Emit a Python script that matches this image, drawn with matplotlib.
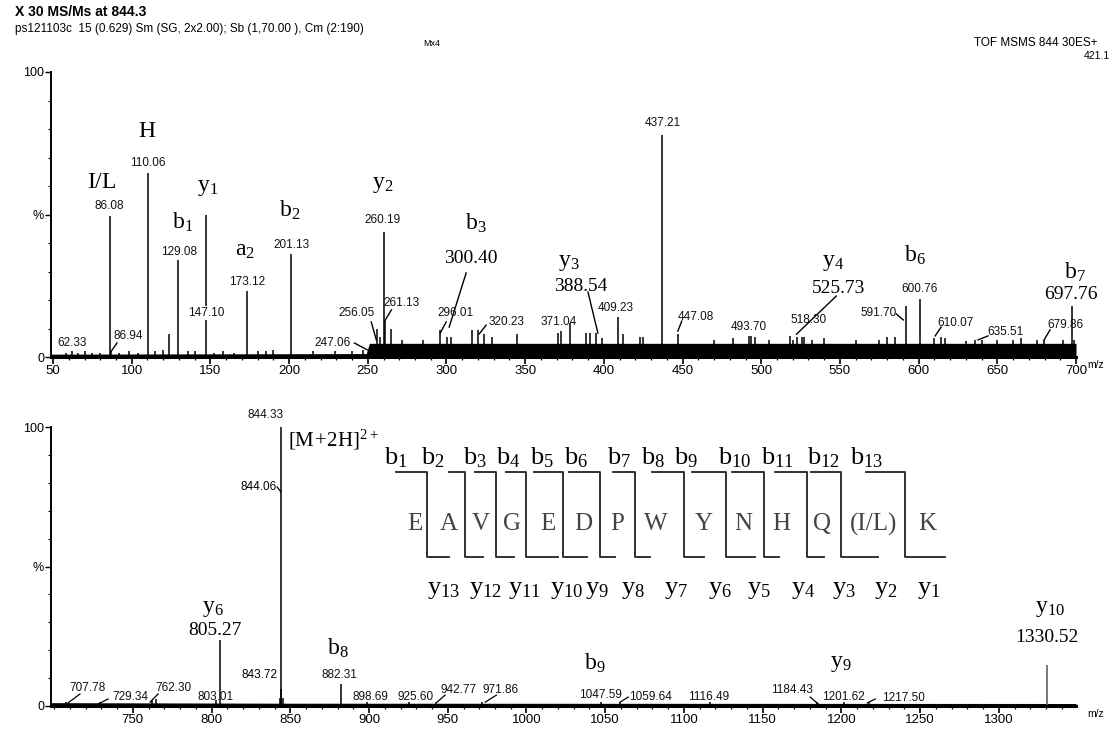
import numpy as np
import matplotlib.pyplot as plt
from matplotlib.transforms import Affine2D
from matplotlib.ticker import MultipleLocator

W, H = 1110, 734

# ---- top spectrum, m/z 50-700 ----
top_mz = [62.33, 86.08, 86.94, 110.06, 123.5, 129.08, 147.10, 173.12, 201.13, 247.06,
          256.05, 260.19, 261.13, 265.0, 296.01, 300.40, 316.0, 320.23, 371.04, 378.5,
          388.54, 409.23, 437.21, 447.08, 493.70, 518.30, 525.73, 591.70, 600.76, 610.07,
          635.51, 679.86, 697.76]
top_int = [2.0, 49.5, 2.0, 64.5, 8.0, 34.0, 50.0, 23.0, 36.0, 2.5,
           10.0, 44.0, 13.0, 10.0, 9.5, 7.0, 9.5, 9.5, 8.5, 12.0,
           8.5, 14.0, 78.0, 8.0, 7.5, 7.5, 7.0, 18.0, 20.5, 6.5,
           6.0, 6.0, 17.8]

# small spikes poking out of the noise
top_minor_mz = [58, 66, 70, 75, 80, 92, 98, 104, 115, 120, 136, 140, 152, 158, 165, 180,
                185, 190, 215, 229, 240, 258, 272, 285, 303, 324, 329, 345, 373, 391,
                395, 399, 412, 423, 425, 470, 482, 492, 496, 505, 520, 523, 527, 532,
                540, 560, 575, 580, 585, 614, 617, 630, 640, 650, 660, 665, 675, 692, 699]
top_minor_int = [1.5, 1.5, 2.0, 1.5, 1.5, 1.5, 2.0, 1.5, 2.0, 2.5, 2.0, 2.0, 1.5, 2.0, 1.5, 2.0,
                 2.0, 2.5, 2.0, 2.0, 2.0, 7.0, 6.0, 6.0, 7.0, 8.0, 7.0, 8.0, 9.0, 8.5,
                 8.5, 6.5, 8.0, 7.0, 7.0, 6.0, 6.5, 7.5, 7.0, 6.0, 6.0, 7.0, 7.0, 6.0,
                 6.5, 6.0, 6.0, 7.0, 7.0, 7.0, 6.5, 5.5, 6.0, 6.0, 6.0, 6.5, 6.0, 6.0, 6.0]

# noise floor envelope
top_noise_mz = [48.7, 249, 251, 700]
top_noise_lvl = [1.0, 1.2, 4.8, 4.8]

# ---- bottom spectrum, m/z 700-1350 ----
bot_mz = [707.78, 729.34, 762.30, 765.0, 803.01, 805.27, 843.72, 844.06, 844.33, 845.3,
          882.31, 898.69, 925.60, 942.77, 971.86, 1047.59, 1059.64, 1116.49, 1184.43,
          1201.62, 1217.50, 1330.52]
bot_int = [1.5, 1.5, 2.0, 2.5, 2.0, 23.7, 3.0, 6.0, 100.0, 3.0,
           8.0, 1.5, 1.5, 1.5, 1.5, 1.5, 1.5, 1.5, 1.5,
           1.5, 1.5, 14.7]
bot_noise_mz = [698, 850, 1349]
bot_noise_lvl = [1.2, 1.0, 0.9]

# peptide fragment map
residues = ['E', 'A', 'V', 'G', 'E', 'D', 'P', 'W', 'Y', 'N', 'H', 'Q', '(I/L)', 'K']
b_ions = ['b_{%d}' % i for i in range(1, 14)]
y_ions = ['y_{%d}' % i for i in range(13, 0, -1)]

plt.rcParams['font.family'] = ['Liberation Sans', 'DejaVu Sans']
plt.rcParams['mathtext.fontset'] = 'custom'
plt.rcParams['mathtext.rm'] = 'Liberation Serif'

fig = plt.figure(figsize=(W / 100, H / 100), dpi=100)
px = Affine2D().scale(1 / W, -1 / H).translate(0, 1) + fig.transFigure

ax1 = fig.add_axes([51 / W, 1 - 357 / H, 1025 / W, 285 / H])
ax2 = fig.add_axes([51 / W, 1 - 706 / H, 1025 / W, 279 / H])

SERIF = 'Liberation Serif'
small = dict(fontsize=8.5, ha='center', va='center', color='#111')


def style(ax, lo, hi, first):
    ax.set_xlim(lo, hi)
    ax.set_ylim(0, 100)
    for s in ['top', 'right']:
        ax.spines[s].set_visible(False)
    ax.spines['left'].set_linewidth(1.4)
    ax.spines['bottom'].set_linewidth(2.2)
    ax.set_xticks(np.arange(first, hi + 1, 50))
    ax.xaxis.set_minor_locator(MultipleLocator(10))
    ax.set_yticks([0, 50, 100])
    ax.set_yticklabels(['0', '%', '100'])
    ax.yaxis.set_minor_locator(MultipleLocator(10))
    ax.tick_params(axis='x', which='major', length=5, width=1.2, labelsize=9.5, pad=1)
    ax.tick_params(axis='x', which='minor', length=2.5, width=0.9)
    ax.tick_params(axis='y', which='major', length=4, width=1, labelsize=9, pad=1)
    ax.tick_params(axis='y', which='minor', length=2, width=0.8)
    ax.text(1.011, -0.012, 'm/z', transform=ax.transAxes, fontsize=7.5, va='top', ha='left')


# ---------------- top panel ----------------
style(ax1, 48.7, 700, 50)
ax1.fill_between(top_noise_mz, 0, top_noise_lvl, color='black', lw=0)
ax1.vlines(top_minor_mz, 0, top_minor_int, color='black', lw=1.1)
ax1.vlines(top_mz, 0, top_int, color='black', lw=1.1)

top_labels = [('62.33', 62.0, 4.9), ('86.08', 85.5, 53.0), ('86.94', 97.5, 7.4),
              ('110.06', 110.0, 68.0), ('129.08', 129.9, 37.0), ('173.12', 173.5, 26.3),
              ('201.13', 201.5, 39.3), ('247.06', 227.5, 4.9), ('256.05', 242.7, 15.4),
              ('260.19', 259.5, 48.0), ('261.13', 271.3, 19.0), ('296.01', 306.0, 15.4),
              ('320.23', 337.9, 12.3), ('371.04', 371.0, 12.3), ('409.23', 407.6, 17.2),
              ('437.21', 437.3, 82.0), ('447.08', 458.3, 14.0), ('493.70', 492.0, 10.5),
              ('518.30', 530.0, 13.0), ('591.70', 574.4, 15.4), ('600.76', 600.5, 23.9),
              ('610.07', 623.2, 11.9), ('635.51', 655.0, 8.8), ('679.86', 693.0, 11.2)]
for t, x, y in top_labels:
    ax1.text(x, y, t, clip_on=False, **small)
ax1.text(147.6, 15.4, '147.10', clip_on=False,
         bbox=dict(fc='white', ec='none', pad=0.5), **small)

serif_nums = [('300.40', 315.7, 34.7), ('388.54', 385.4, 24.6), ('525.73', 549.0, 24.2),
              ('697.76', 696.8, 21.8)]
for t, x, y in serif_nums:
    ax1.text(x, y, t, family=SERIF, fontsize=14, ha='center', va='center', clip_on=False)

top_ions = [('I/L', 81.0, 61.4), ('H', 109.6, 79.0), ('y_1', 148.3, 59.3), ('b_1', 132.4, 47.4),
            ('a_2', 171.7, 37.5), ('b_2', 200.2, 51.6), ('y_2', 259.2, 60.4), ('b_3', 318.8, 47.0),
            ('y_3', 377.8, 33.0), ('y_4', 545.9, 33.3), ('b_6', 597.8, 35.8), ('b_7', 699.3, 29.8)]
for t, x, y in top_ions:
    ax1.text(x, y, r'$\mathregular{%s}$' % t, family=SERIF, fontsize=17,
             ha='center', va='center', clip_on=False)

top_pointers = [(90.6, 4.9, 86.7, 1.8), (241.5, 4.9, 249.7, 2.5), (252.2, 12.3, 255.4, 6.0),
                (265.0, 16.5, 261.1, 13.0), (299.8, 12.3, 296.0, 8.4), (312.5, 29.5, 301.7, 10.5),
                (325.2, 11.2, 320.8, 8.1), (389.9, 22.8, 396.2, 8.4), (449.5, 12.6, 447.0, 9.1),
                (547.7, 21.4, 522.4, 8.0), (585.8, 15.1, 590.3, 13.0), (614.3, 10.5, 610.5, 7.4),
                (644.1, 7.4, 637.8, 6.0), (683.5, 9.5, 679.7, 6.0)]
for x1, y1, x2, y2 in top_pointers:
    ax1.plot([x1, x2], [y1, y2], color='black', lw=1.0, clip_on=False)

# ---------------- bottom panel ----------------
style(ax2, 698, 1349, 750)
ax2.fill_between(bot_noise_mz, 0, bot_noise_lvl, color='black', lw=0)
ax2.vlines(bot_mz[:-1], 0, bot_int[:-1], color='black', lw=1.1)
ax2.vlines(bot_mz[-1:], 0, bot_int[-1:], color='#555', lw=1.1)

bot_labels = [('844.33', 834.0, 104.3), ('707.78', 720.9, 6.5), ('729.34', 748.2, 3.2),
              ('762.30', 775.5, 6.5), ('803.01', 802.2, 3.2), ('882.31', 881.0, 11.1),
              ('898.69', 900.7, 3.2), ('925.60', 929.3, 3.2), ('942.77', 956.6, 5.7),
              ('971.86', 983.3, 5.7), ('1047.59', 1046.8, 3.9), ('1059.64', 1078.6, 3.2),
              ('1116.49', 1115.4, 3.2), ('1184.43', 1168.8, 5.7), ('1201.62', 1201.2, 3.2),
              ('1217.50', 1239.3, 3.0)]
for t, x, y in bot_labels:
    ax2.text(x, y, t, clip_on=False, **small)
ax2.text(841.6, 78.5, '844.06', fontsize=8.5, ha='right', va='center', clip_on=False)
ax2.text(841.6, 11.1, '843.72', fontsize=8.5, ha='right', va='center', clip_on=False)

for t, x, y in [('805.27', 802.2, 27.2), ('1330.52', 1330.8, 24.7)]:
    ax2.text(x, y, t, family=SERIF, fontsize=14, ha='center', va='center', clip_on=False)
bot_ions = [('y_6', 800.9, 35.1), ('b_8', 880.3, 20.5), ('b_9', 1043.6, 15.4),
            ('y_9', 1199.3, 15.4), ('y_{10}', 1332.7, 35.1)]
for t, x, y in bot_ions:
    ax2.text(x, y, r'$\mathregular{%s}$' % t, family=SERIF, fontsize=17,
             ha='center', va='center', clip_on=False)
ax2.text(848.6, 95.3, r'$\mathregular{[M\!+\!2H]^{2+}}$', family=SERIF, fontsize=15,
         ha='left', va='center', clip_on=False)

bot_pointers = [(716.4, 4.3, 708.8, 1.1), (734.2, 2.5, 727.9, 0.7), (766.0, 4.3, 760.9, 1.4),
                (948.3, 3.9, 943.2, 1.4), (980.9, 3.9, 973.8, 1.4), (1064.6, 3.2, 1059.5, 1.4),
                (1180.2, 3.2, 1185.3, 0.7), (1221.5, 2.5, 1216.4, 1.1), (841.6, 78.5, 844.1, 76.7)]
for x1, y1, x2, y2 in bot_pointers:
    ax2.plot([x1, x2], [y1, y2], color='black', lw=0.9, clip_on=False)

# ---------------- fragment ladder (pixel layout) ----------------
sep_x = [427, 465, 496, 526, 563, 600, 635, 684, 726, 764, 807, 841, 905]
top_start = [396, 449, 475, 506, 534, 569, 613, 652, 692, 732, 775, 811, 866]
bot_end = [449, 483, 514, 558, 587, 615, 650, 704, 755, 779, 824, 878, 945]
res_x = [415, 449, 481, 512, 548, 583, 617, 656, 704, 743, 781, 822, 874, 927]
b_x = [384, 421, 463, 496, 530, 564, 607, 641, 674, 718, 761, 807, 850]
y_x = [427, 469, 508, 550, 585, 621, 664, 708, 747, 791, 832, 874, 917]
Y_TOP, Y_BOT = 472, 557

for s, t0, b1 in zip(sep_x, top_start, bot_end):
    fig.add_artist(plt.Line2D([t0, s, s, b1], [Y_TOP, Y_TOP, Y_BOT, Y_BOT],
                              transform=px, color='#222', lw=1.3))
for r, x in zip(residues, res_x):
    fig.text(x, 524, r, transform=px, family=SERIF, fontsize=18, color='#444',
             ha='center', va='center')
for b, x in zip(b_ions, b_x):
    fig.text(x, 458, r'$\mathregular{%s}$' % b, transform=px, family=SERIF, fontsize=19,
             ha='left', va='center')
for yl, x in zip(y_ions, y_x):
    fig.text(x, 590, r'$\mathregular{%s}$' % yl, transform=px, family=SERIF, fontsize=19,
             ha='left', va='center')

# ---------------- header ----------------
fig.text(15, 12, 'X 30 MS/Ms at 844.3', transform=px, fontsize=10, weight='bold', va='center')
fig.text(15, 29, 'ps121103c  15 (0.629) Sm (SG, 2x2.00); Sb (1,70.00 ), Cm (2:190)',
         transform=px, fontsize=8.5, va='center')
fig.text(1097, 43, 'TOF MSMS 844 30ES+', transform=px, fontsize=8.5, ha='right', va='center')
fig.text(1110, 56, '421.1', transform=px, fontsize=7.5, ha='right', va='center')
fig.text(432, 43, 'Mx4', transform=px, fontsize=6.5, ha='center', va='center')

fig.savefig('out.png', dpi=100)
